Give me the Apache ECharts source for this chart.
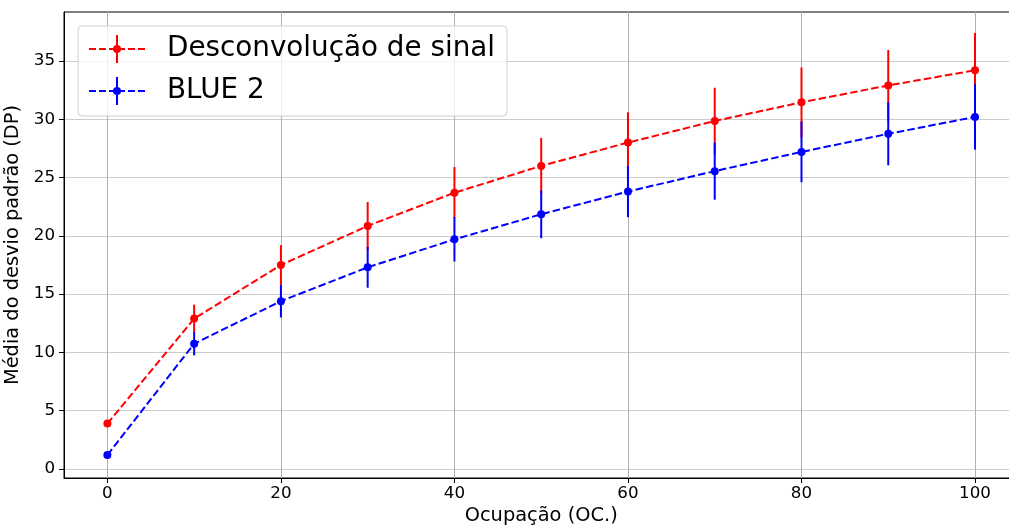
<!DOCTYPE html>
<html>
<head>
<meta charset="utf-8">
<script src="https://cdn.jsdelivr.net/npm/echarts@6/dist/echarts.min.js"></script>
<style>
html,body{margin:0;padding:0;background:#fff;}
#chart{width:1009px;height:526px;}
</style>
</head>
<body>
<div id="chart"></div>
<script>
// ---- data ----
const occupancy = [0, 10, 20, 30, 40, 50, 60, 70, 80, 90, 100];
const desconvMean = [3.9, 12.9, 17.5, 20.85, 23.7, 26.0, 28.0, 29.85, 31.45, 32.9, 34.2];
const desconvErr  = [0.15, 1.2, 1.7, 2.05, 2.2, 2.4, 2.6, 2.85, 3.0, 3.05, 3.2];
const blue2Mean   = [1.2, 10.75, 14.4, 17.3, 19.7, 21.85, 23.8, 25.55, 27.2, 28.75, 30.2];
const blue2Err    = [0.18, 1.0, 1.4, 1.75, 1.9, 2.05, 2.2, 2.45, 2.6, 2.7, 2.8];
const yTicks = [0, 5, 10, 15, 20, 25, 30, 35];
const xTicks = [0, 20, 40, 60, 80, 100];
const seriesNames = ['Desconvolução de sinal', 'BLUE 2'];

const FONT = 'DejaVu Sans';
const RED = '#ff0000', BLUE = '#0000ff';

function pts(xs, ys) { return xs.map((x, i) => [x, ys[i]]); }
function errData(xs, ys, es) { return xs.map((x, i) => [x, ys[i] - es[i], ys[i] + es[i]]); }

function errSeries(name, data, color, z) {
  return {
    type: 'custom', name: name, z: z, silent: true,
    data: data,
    encode: { x: 0, y: [1, 2] },
    renderItem: function (params, api) {
      const a = api.coord([api.value(0), api.value(1)]);
      const b = api.coord([api.value(0), api.value(2)]);
      return { type: 'line', shape: { x1: a[0], y1: a[1], x2: b[0], y2: b[1] },
               style: { stroke: color, lineWidth: 2 } };
    }
  };
}

function lineSeries(name, data, color, z) {
  return {
    type: 'line', name: name, z: z, data: data,
    symbol: 'circle', symbolSize: 8, showSymbol: true,
    itemStyle: { color: color, borderWidth: 0 },
    lineStyle: { color: color, width: 2, type: [7.5, 3.2] },
    emphasis: { disabled: true }, animation: false
  };
}

// legend icon: dashed line, vertical error bar, marker
const ICON = 'path://' +
  'M0,13 H7 V15 H0 Z M10,13 H17 V15 H10 Z M20,13 H26 V15 H20 Z ' +
  'M30,13 H36 V15 H30 Z M39,13 H46 V15 H39 Z M49,13 H56 V15 H49 Z ' +
  'M27,0 H29 V28 H27 Z ' +
  'M24,14 A4,4 0 1,1 32,14 A4,4 0 1,1 24,14 Z';

const chart = echarts.init(document.getElementById('chart'), null, { renderer: 'canvas' });
chart.setOption({
  animation: false,
  backgroundColor: '#fff',
  textStyle: { fontFamily: FONT },
  grid: { left: 64, top: 12, bottom: 48, right: -9.4, show: true, borderColor: '#000', borderWidth: 1,
          backgroundColor: 'transparent', containLabel: false, outerBoundsMode: 'none' },
  legend: {
    left: 78, top: 26, orient: 'vertical',
    backgroundColor: 'rgba(255,255,255,0.8)', borderColor: '#d0d0d0', borderWidth: 1, borderRadius: 4,
    padding: [9, 12, 11, 11], itemGap: 14, itemWidth: 56, itemHeight: 28,
    textStyle: { fontSize: 27.8, color: '#000', fontFamily: FONT, padding: [0, 0, 0, 17] },
    data: [
      { name: seriesNames[0], icon: ICON, itemStyle: { color: RED, borderWidth: 0 } },
      { name: seriesNames[1], icon: ICON, itemStyle: { color: BLUE, borderWidth: 0 } }
    ],
    selectedMode: false
  },
  xAxis: {
    type: 'value', min: -5, max: 105, interval: 20,
    name: 'Ocupação (OC.)', nameLocation: 'middle', nameGap: 28,
    nameTextStyle: { fontSize: 19.4, color: '#000', fontFamily: FONT },
    axisLine: { show: true, onZero: false, lineStyle: { color: '#000', width: 1 } },
    axisTick: { show: true, length: 5, lineStyle: { color: '#000' }, customValues: xTicks },
    axisLabel: { fontSize: 16.7, color: '#000', margin: 7, fontFamily: FONT, customValues: xTicks },
    splitLine: { show: true, lineStyle: { color: '#b0b0b0', width: 1 } }
  },
  yAxis: {
    type: 'value', min: -0.77, max: 39.2, interval: 5,
    name: 'Média do desvio padrão (DP)', nameLocation: 'middle', nameGap: 29, nameRotate: 90,
    nameTextStyle: { fontSize: 19.4, color: '#000', fontFamily: FONT },
    axisLine: { show: true, onZero: false, lineStyle: { color: '#000', width: 1 } },
    axisTick: { show: true, length: 5, lineStyle: { color: '#000' }, customValues: yTicks },
    axisLabel: { fontSize: 16.7, color: '#000', margin: 9, fontFamily: FONT, customValues: yTicks },
    splitLine: { show: true, lineStyle: { color: '#cccccc', width: 1 } }
  },
  series: [
    errSeries('err0', errData(occupancy, desconvMean, desconvErr), RED, 2),
    lineSeries(seriesNames[0], pts(occupancy, desconvMean), RED, 3),
    errSeries('err1', errData(occupancy, blue2Mean, blue2Err), BLUE, 4),
    lineSeries(seriesNames[1], pts(occupancy, blue2Mean), BLUE, 5)
  ]
});
</script>
</body>
</html>
